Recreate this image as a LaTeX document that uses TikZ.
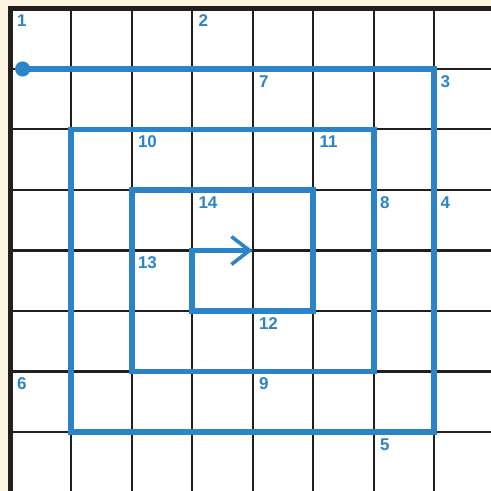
\documentclass[tikz,border=0pt]{standalone}
\usepackage{fontspec}
\setsansfont{Liberation Sans}
\usetikzlibrary{arrows.meta}
\definecolor{spiralblue}{HTML}{2B84C7}
\definecolor{inkdark}{HTML}{231F20}
\definecolor{paper}{HTML}{FDF5E2}

\begin{document}
\begin{tikzpicture}[
    x=1cm, y=-1cm,
    gridline/.style={draw=inkdark, line width=0.95pt},
    frame/.style={draw=inkdark, line width=2.4pt},
    num/.style={anchor=north west, inner sep=0pt, text=spiralblue, font=\sffamily\bfseries\fontsize{8}{9}\selectfont},
    spiral/.style={draw=spiralblue, line width=2.8pt, -{Straight Barb[length=0.3cm, width=0.46cm, line width=1.7pt]}},
    dot/.style={circle, fill=spiralblue, inner sep=0pt, minimum size=0.25cm},
  ]
    % Paper
    \fill[paper] (-0.174,-0.14) rectangle (7.94,7.975);
    \useasboundingbox (-0.174,-0.14) rectangle (7.94,7.975);
    \fill[white] (0,0) rectangle (8,8);

    % Grid
    \foreach \i in {1,...,8} {
      \draw[gridline] (\i,0) -- (\i,8.1);
      \draw[gridline] (0,\i) -- (8.1,\i);
    }
    \draw[frame] (0,8.1) -- (0,0) -- (8.1,0);

    % Step numbers
    \foreach \t/\c/\r in {1/0/0, 2/3/0, 3/7/1, 4/7/3, 5/6/7, 6/0/6, 7/4/1,
                          8/6/3, 9/4/6, 10/2/2, 11/5/2, 12/4/5, 13/2/4, 14/3/3}
      \node[num] (n\t) at (\c+0.1,\r+0.1) {\t};

    % Spiral
    \node[dot] (start) at (0.2,1) {};
    \coordinate (finish) at (4,4);
    \draw[spiral] (start.center) -- (7,1) -- (7,7) -- (1,7) -- (1,2) -- (6,2)
      -- (6,6) -- (2,6) -- (2,3) -- (5,3) -- (5,5) -- (3,5) -- (3,4) -- (finish);
\end{tikzpicture}
\end{document}
